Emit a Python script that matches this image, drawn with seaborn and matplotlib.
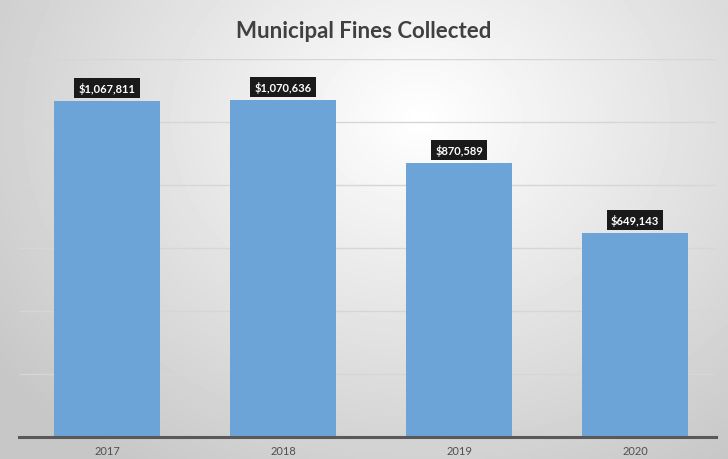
import numpy as np
import pandas as pd
import matplotlib
matplotlib.use("Agg")
import matplotlib.pyplot as plt
import seaborn as sns

years = ["2017", "2018", "2019", "2020"]
fines = [1067811, 1070636, 870589, 649143]
labels = ["$1,067,811", "$1,070,636", "$870,589", "$649,143"]

df = pd.DataFrame({"year": years, "fines": fines})

sns.set_theme(style="white")
plt.rcParams["font.family"] = ["Lato", "DejaVu Sans"]

fig = plt.figure(figsize=(7.28, 4.6), dpi=100)

# radial grey-to-white background
bg = fig.add_axes([0, 0, 1, 1], zorder=-10)
yy, xx = np.mgrid[0:460, 0:728]
r = np.sqrt(((xx - 420) / 520.0) ** 2 + ((yy - 120) / 420.0) ** 2)
shade = np.clip(1.0 - 0.22 * r, 0.78, 1.0)
bg.imshow(shade, cmap="gray", vmin=0, vmax=1, aspect="auto", interpolation="bilinear")
bg.axis("off")

ax = fig.add_axes([19 / 728, 22 / 460, 697 / 728, 378 / 460])
ax.patch.set_alpha(0)
sns.barplot(data=df, x="year", y="fines", color="#6ca4d8", width=0.6,
            saturation=1, linewidth=0, ax=ax, zorder=3)

ax.set_ylim(0, 1200000)
ax.set_xlim(-0.5, 3.46)
ax.set_yticks(np.arange(0, 1200001, 200000))
ax.yaxis.grid(True, color="#d6d6d6", linewidth=1)
ax.set_yticklabels([])
ax.tick_params(axis="y", length=0)
ax.tick_params(axis="x", length=0, labelsize=8, labelcolor="#505050", pad=6)
ax.set_xlabel("")
ax.set_ylabel("")
for s in ["top", "right", "left"]:
    ax.spines[s].set_visible(False)
ax.spines["bottom"].set_color("#595959")
ax.spines["bottom"].set_linewidth(2.2)
ax.spines["bottom"].set_zorder(5)

for i, (v, lab) in enumerate(zip(fines, labels)):
    ax.annotate(lab, (i, v), xytext=(0, 9), textcoords="offset points",
                ha="center", va="center", fontsize=8, fontweight="bold",
                color="white", zorder=6,
                bbox=dict(boxstyle="square,pad=0.38", fc="#1a1a1a", ec="none"))

fig.text(0.5, 1 - 32 / 460, "Municipal Fines Collected", ha="center", va="center",
         fontsize=16, fontweight="bold", color="#404040")

fig.savefig("out.png", dpi=100)
